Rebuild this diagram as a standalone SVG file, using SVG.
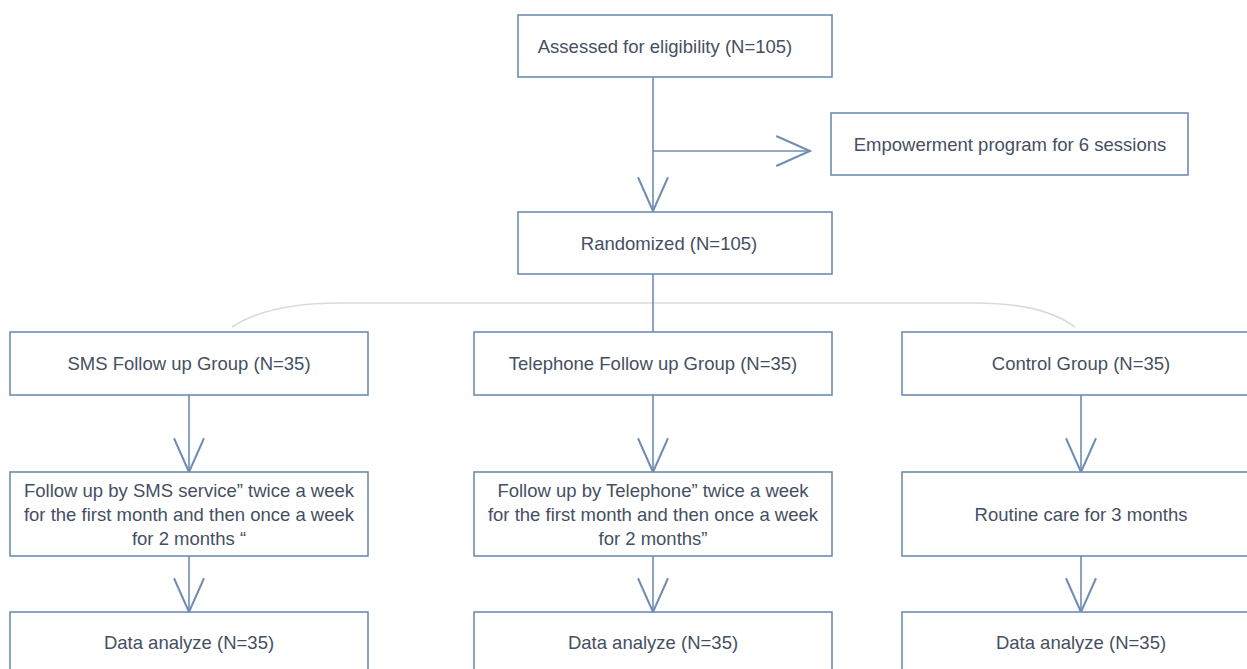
<svg xmlns="http://www.w3.org/2000/svg" width="1247" height="669" viewBox="0 0 1247 669">
  <defs>
    <marker id="arr" markerUnits="userSpaceOnUse" markerWidth="40" markerHeight="40" refX="0" refY="0" viewBox="-30 -15 32 30" orient="auto" overflow="visible">
      <path d="M-27,-12 L0,0 L-27,12" fill="none" stroke="#6f8db3" stroke-width="1.6"/>
    </marker>
    <style>
      .box { fill: #ffffff; stroke: #6f8db3; stroke-width: 1.6; }
      .t { font-family: "Liberation Sans", Arial, sans-serif; font-size: 18.5px; fill: #454f63; text-anchor: middle; }
      .c { fill: none; stroke: #6f8db3; stroke-width: 1.6; }
      .arc { fill: none; stroke: #dadada; stroke-width: 1.6; }
    </style>
  </defs>
  <rect width="1247" height="669" fill="#ffffff"/>

  <g id="connectors">
    <path class="arc" d="M232,327 Q268,303 340,303 L975,303 Q1043,303 1075,327"/>
    <line class="c" x1="653" y1="77" x2="653" y2="211" marker-end="url(#arr)"/>
    <line class="c" x1="653" y1="151" x2="810" y2="151" marker-end="url(#arr)"/>
    <line class="c" x1="653" y1="274" x2="653" y2="332"/>
    <line class="c" x1="189" y1="395" x2="189" y2="472" marker-end="url(#arr)"/>
    <line class="c" x1="189" y1="556" x2="189" y2="612" marker-end="url(#arr)"/>
    <line class="c" x1="653" y1="395" x2="653" y2="472" marker-end="url(#arr)"/>
    <line class="c" x1="653" y1="556" x2="653" y2="612" marker-end="url(#arr)"/>
    <line class="c" x1="1081" y1="395" x2="1081" y2="472" marker-end="url(#arr)"/>
    <line class="c" x1="1081" y1="556" x2="1081" y2="612" marker-end="url(#arr)"/>
  </g>

  <g id="assessed">
    <rect class="box" x="518" y="15" width="314" height="62"/>
    <text class="t" x="665" y="53">Assessed for eligibility (N=105)</text>
  </g>
  <g id="empowerment">
    <rect class="box" x="831" y="113" width="357" height="62"/>
    <text class="t" x="1010" y="151">Empowerment program for 6 sessions</text>
  </g>
  <g id="randomized">
    <rect class="box" x="518" y="212" width="314" height="62"/>
    <text class="t" x="669" y="250">Randomized (N=105)</text>
  </g>

  <g id="sms-group">
    <rect class="box" x="10" y="332" width="358" height="63"/>
    <text class="t" x="189" y="370">SMS Follow up Group (N=35)</text>
  </g>
  <g id="tel-group">
    <rect class="box" x="474" y="332" width="358" height="63"/>
    <text class="t" x="653" y="370">Telephone Follow up Group (N=35)</text>
  </g>
  <g id="control-group">
    <rect class="box" x="902" y="332" width="358" height="63"/>
    <text class="t" x="1081" y="370">Control Group (N=35)</text>
  </g>

  <g id="sms-follow">
    <rect class="box" x="10" y="472" width="358" height="84"/>
    <text class="t" x="189" y="497">Follow up by SMS service” twice a week</text>
    <text class="t" x="189" y="521">for the first month and then once a week</text>
    <text class="t" x="189" y="545">for 2 months “</text>
  </g>
  <g id="tel-follow">
    <rect class="box" x="474" y="472" width="358" height="84"/>
    <text class="t" x="653" y="497">Follow up by Telephone” twice a week</text>
    <text class="t" x="653" y="521">for the first month and then once a week</text>
    <text class="t" x="653" y="545">for 2 months”</text>
  </g>
  <g id="routine">
    <rect class="box" x="902" y="472" width="358" height="84"/>
    <text class="t" x="1081" y="521">Routine care for 3 months</text>
  </g>

  <g id="sms-data">
    <rect class="box" x="10" y="612" width="358" height="70"/>
    <text class="t" x="189" y="649">Data analyze (N=35)</text>
  </g>
  <g id="tel-data">
    <rect class="box" x="474" y="612" width="358" height="70"/>
    <text class="t" x="653" y="649">Data analyze (N=35)</text>
  </g>
  <g id="control-data">
    <rect class="box" x="902" y="612" width="358" height="70"/>
    <text class="t" x="1081" y="649">Data analyze (N=35)</text>
  </g>
</svg>
